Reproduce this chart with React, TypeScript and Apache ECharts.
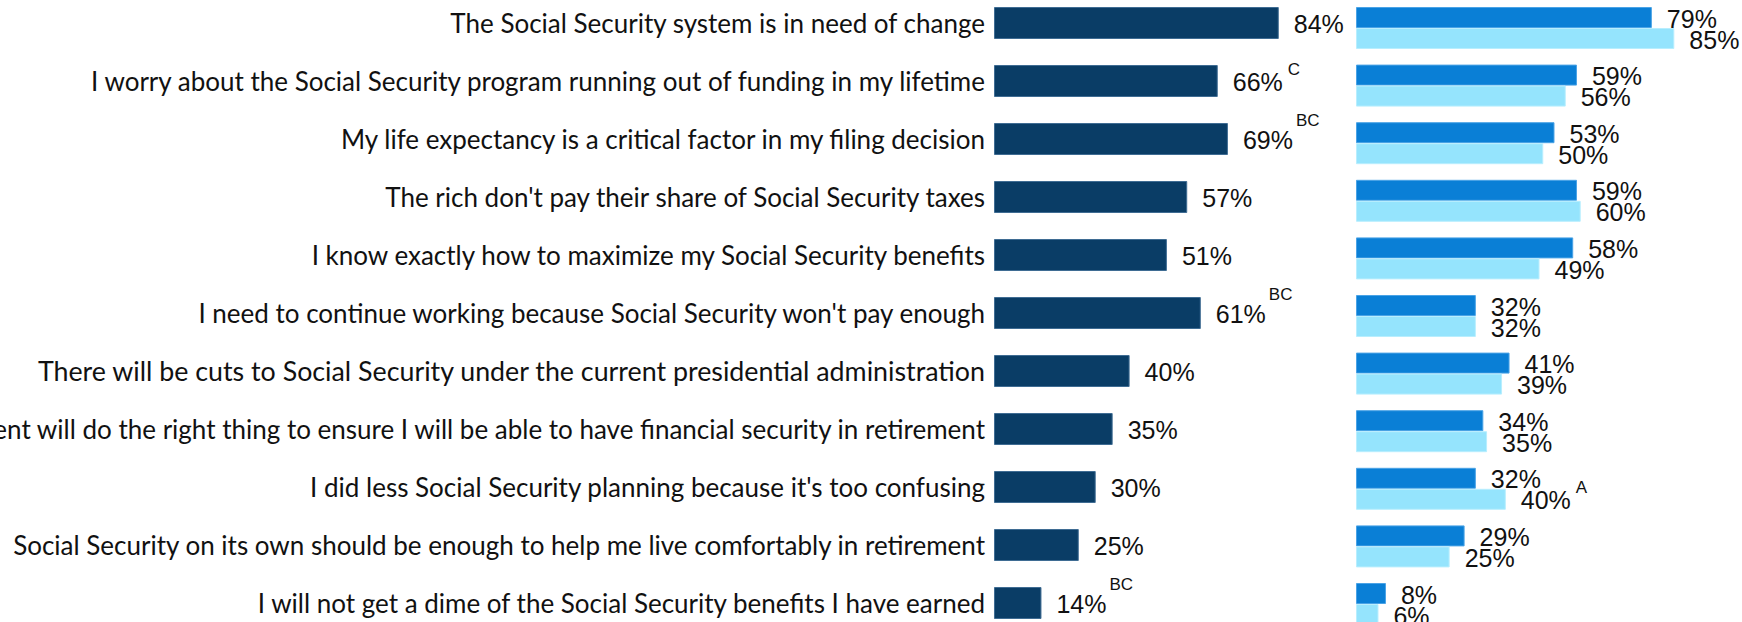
import React, { useEffect, useRef } from "react";
import * as echarts from "echarts";

const categories = [
  "The Social Security system is in need of change",
  "I worry about the Social Security program running out of funding in my lifetime",
  "My life expectancy is a critical factor in my filing decision",
  "The rich don't pay their share of Social Security taxes",
  "I know exactly how to maximize my Social Security benefits",
  "I need to continue working because Social Security won't pay enough",
  "There will be cuts to Social Security under the current presidential administration",
  "I trust the government will do the right thing to ensure I will be able to have financial security in retirement",
  "I did less Social Security planning because it's too confusing",
  "Social Security on its own should be enough to help me live comfortably in retirement",
  "I will not get a dime of the Social Security benefits I have earned",
];

const totalValues = [84, 66, 69, 57, 51, 61, 40, 35, 30, 25, 14];
const totalMarks = ["", "C", "BC", "", "", "BC", "", "", "", "", "BC"];

const groupBValues = [79, 59, 53, 59, 58, 32, 41, 34, 32, 29, 8];
const groupBMarks = ["", "", "", "", "", "", "", "", "", "", ""];

const groupCValues = [85, 56, 50, 60, 49, 32, 39, 35, 40, 25, 6];
const groupCMarks = ["", "", "", "", "", "", "", "", "A", "", ""];

const VALUE_FONT = "'Liberation Sans', Arial, sans-serif";
const CAT_FONT = "Lato, 'Liberation Sans', sans-serif";

function makeLabel(marks: string[], distance: number, offsetY: number) {
  const supBase = {
    fontFamily: VALUE_FONT,
    fontSize: 17,
    color: "#111",
    verticalAlign: "top",
    lineHeight: 18,
  };
  return {
    show: true,
    position: "right",
    distance,
    offset: [0, offsetY],
    fontFamily: VALUE_FONT,
    formatter: (p: any) => {
      const m = marks[p.dataIndex];
      if (!m) return `{v|${p.value}%}`;
      return m.length > 1 ? `{v|${p.value}%}{s|${m}}` : `{v|${p.value}%}{t|${m}}`;
    },
    rich: {
      v: {
        fontFamily: VALUE_FONT,
        fontSize: 25,
        color: "#111",
        lineHeight: 56,
      },
      s: { ...supBase, padding: [0, 0, 0, 3] },
      t: { ...supBase, padding: [7, 0, 0, 5] },
    },
  };
}

export default function App() {
  const ref = useRef<HTMLDivElement>(null);

  useEffect(() => {
    if (!ref.current) return;
    const chart = echarts.init(ref.current, undefined, { renderer: "svg" });
    const leftPitch = 58;
    const rightPitch = 57.6;
    chart.setOption({
      animation: false,
      backgroundColor: "#ffffff",
      grid: [
        {
          left: 994,
          top: 23 - leftPitch / 2,
          width: 339,
          height: leftPitch * categories.length,
          containLabel: false,
          outerBoundsMode: "none",
        },
        {
          left: 1356,
          top: 28 - rightPitch / 2,
          width: 374.5,
          height: rightPitch * categories.length,
          containLabel: false,
          outerBoundsMode: "none",
        },
      ],
      xAxis: [
        { type: "value", gridIndex: 0, min: 0, max: 100, show: false },
        { type: "value", gridIndex: 1, min: 0, max: 100, show: false },
      ],
      yAxis: [
        {
          type: "category",
          gridIndex: 0,
          inverse: true,
          data: categories,
          axisLine: { show: false },
          axisTick: { show: false },
          splitLine: { show: false },
          axisLabel: {
            show: true,
            margin: 9,
            align: "right",
            fontFamily: CAT_FONT,
            fontSize: 26,
            color: "#111",
            formatter: (value: string, index: number) =>
              index === 6 ? `{w|${value}}` : `{n|${value}}`,
            rich: {
              n: { fontFamily: CAT_FONT, fontSize: 26, color: "#111" },
              w: { fontFamily: CAT_FONT, fontSize: 26.8, color: "#111" },
            },
          },
        },
        {
          type: "category",
          gridIndex: 1,
          inverse: true,
          data: categories,
          show: false,
        },
      ],
      series: [
        {
          name: "Total",
          type: "bar",
          xAxisIndex: 0,
          yAxisIndex: 0,
          barWidth: 32,
          data: totalValues,
          itemStyle: { color: "#0A3D66", borderColor: "#3F6C93", borderWidth: 1 },
          label: makeLabel(totalMarks, 15, 1),
        },
        {
          name: "Group B",
          type: "bar",
          xAxisIndex: 1,
          yAxisIndex: 1,
          barWidth: 21,
          barGap: "0%",
          data: groupBValues,
          itemStyle: { color: "#0A7FD6", borderColor: "#4AA3E6", borderWidth: 1 },
          label: makeLabel(groupBMarks, 15, 1),
        },
        {
          name: "Group C",
          type: "bar",
          xAxisIndex: 1,
          yAxisIndex: 1,
          barWidth: 21,
          barGap: "0%",
          data: groupCValues,
          itemStyle: { color: "#95E4FD", borderColor: "#B8EEFE", borderWidth: 1 },
          label: makeLabel(groupCMarks, 15, 1),
        },
      ],
    });
    return () => chart.dispose();
  }, []);

  return (
    <div
      ref={ref}
      style={{ position: "absolute", left: 0, top: 0, width: 1742, height: 622 }}
    />
  );
}
